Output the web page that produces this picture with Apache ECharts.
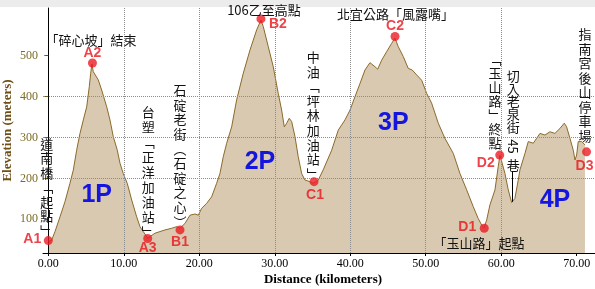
<!DOCTYPE html>
<html><head><meta charset="utf-8">
<script src="https://cdn.jsdelivr.net/npm/echarts@6/dist/echarts.min.js"></script>
<style>html,body{margin:0;padding:0;background:#fff}#c{width:595px;height:289px}</style>
</head><body><div id="c"></div>
<script>
// ---- data ----
const distKm = [0, 0.45, 0.89, 1.55, 2.21, 2.87, 3.31, 3.76, 4.20, 4.64, 5.09, 5.43, 5.62, 5.78, 5.96, 6.62, 7.07, 7.74, 8.17, 8.61, 9.14, 9.50, 9.93, 10.46, 11.05, 11.71, 12.15, 12.58, 13.17, 14.13, 15.46, 16.34, 17.01, 17.44, 18.11, 18.77, 19.43, 19.87, 20.32, 20.98, 21.64, 22.30, 22.74, 23.18, 23.63, 24.29, 24.95, 25.83, 26.72, 27.60, 28.17, 28.48, 29.14, 29.80, 30.46, 30.91, 31.26, 31.58, 31.92, 32.24, 32.68, 33.11, 33.56, 34.00, 34.66, 35.10, 35.76, 36.42, 37.54, 38.41, 39.30, 39.97, 40.63, 41.29, 41.95, 42.61, 43.28, 43.63, 44.16, 44.82, 45.48, 45.92, 46.36, 47.02, 47.68, 48.21, 48.80, 49.46, 50.12, 50.78, 51.66, 52.54, 53.65, 54.53, 55.42, 56.29, 56.95, 57.40, 57.71, 58.07, 58.50, 59.17, 59.60, 59.83, 60.05, 60.49, 60.93, 61.38, 61.81, 62.25, 62.48, 63.14, 63.58, 64.24, 64.69, 65.13, 65.79, 66.45, 67.11, 67.77, 68.35, 68.66, 69.10, 69.54, 69.77, 69.99, 70.20, 70.65, 71.09];
const elevM = [45, 49, 70, 106, 143, 188, 220, 269, 310, 343, 375, 424, 457, 480, 461, 441, 416, 375, 343, 302, 269, 237, 212, 188, 147, 106, 82, 70, 54, 66, 74, 78, 82, 78, 90, 110, 113, 110, 127, 139, 155, 188, 212, 253, 286, 326, 392, 457, 514, 563, 587, 571, 522, 473, 408, 367, 326, 335, 347, 339, 302, 253, 212, 196, 192, 188, 196, 221, 269, 318, 343, 367, 400, 432, 465, 483, 473, 467, 489, 510, 530, 543, 522, 498, 469, 465, 453, 440, 408, 384, 335, 298, 261, 212, 172, 131, 102, 86, 80, 98, 135, 172, 229, 257, 253, 212, 172, 141, 151, 196, 221, 261, 290, 286, 298, 310, 306, 314, 310, 322, 335, 326, 298, 269, 245, 257, 290, 290, 282];

const pointNames = ['A1','A2','A3','B1','B2','C1','C2','D1','D2','D3'];
const pointKm    = [0, 5.85, 13.17, 17.45, 28.17, 35.2, 45.93, 57.75, 59.8, 71.3];
const pointElev  = [48, 482, 53, 74, 590, 192, 547, 78, 257, 265];

const sectionNames = ['1P','2P','3P','4P'];
const placeNames = ['道南橋「起點」','「碎心坡」結束','台塑「正洋加油站」','石碇老街（石碇之心）','106乙至高點','中油「坪林加油站」','北宜公路「風露嘴」','「玉山路」終點','切入老泉街','45','巷','「玉山路」起點','指南宮後山停車場'];

const xTickValues = [0, 10, 20, 30, 40, 50, 60, 70];
const yTickValues = [100, 200, 300, 400, 500];

const xTitle = 'Distance (kilometers)';
const yTitle = 'Elevation (meters)';

// ---- layout / style helpers ----
const labelOffsets = [[-16,-1],[0,-10],[0,10],[0,12],[17,5],[1,13],[0,-10],[-17,-1],[-14,8],[-2,14]];
const sectionPos = [[6.41,159],[28.04,241],[45.7,335],[67.12,147]];
// [km, elev, vertical?, lineHeight, rotate]
const placePos = [
  [-0.21,178,true,14.5,0],
  [5.66,538,false,0,0],
  [13.25,216,true,15,0],
  [17.45,255,true,14.6,0],
  [28.57,611,false,0,0],
  [35.1,354,true,14.6,0],
  [45.99,602,false,0,0],
  [59.17,388,true,14,0],
  [61.6,388,true,12.6,0],
  [61.6,278,false,0,-90],
  [61.6,233,false,0,0],
  [57.05,41,false,0,0],
  [71.1,428,true,14.5,0]
];
function verticalize(s){
  const map={'「':'﹁','」':'﹂','（':'︵','）':'︶'};
  return Array.from(s).map(c=>map[c]||c).join('\n');
}
const cjk = '"Noto Sans CJK TC", sans-serif';

const marks = placeNames.map((t,i)=>{
  const p = placePos[i];
  return {
    coord:[p[0],p[1]],
    symbol:'rect', symbolSize:1, itemStyle:{color:'rgba(0,0,0,0)'},
    label:{show:true, position:'inside', formatter: p[2]?verticalize(t):t,
      color:'#111', fontFamily:cjk, fontSize:13, lineHeight:p[2]?p[3]:16, rotate:p[4], align:'center'}
  };
});
sectionNames.forEach((t,i)=>{
  marks.push({coord:sectionPos[i], symbol:'rect', symbolSize:1, itemStyle:{color:'rgba(0,0,0,0)'},
    label:{show:true, position:'inside', formatter:t, color:'#1515e0', fontFamily:'"Liberation Sans", Arial, sans-serif', fontWeight:'bold', fontSize:25}});
});

const gridLine = {show:true, showMinLine:false, showMaxLine:false, lineStyle:{color:'#8c8c8c', type:'dotted', width:1}};

const chart = echarts.init(document.getElementById('c'), null, {renderer:'canvas'});
chart.setOption({
  animation:false,
  backgroundColor:'#ffffff',
  graphic:[{type:'rect', left:0, top:0, shape:{width:595, height:7}, style:{fill:'#ececec'}, z:-1}],
  grid:{left:43, right:0, top:8, bottom:36, outerBoundsMode:'none', containLabel:false},
  xAxis:{type:'value', min:-0.70, max:72.42, minInterval:10, maxInterval:10, z:2,
    name:xTitle, nameLocation:'middle', nameGap:20, nameMoveOverlap:false,
    nameTextStyle:{fontFamily:'"Liberation Serif", serif', fontWeight:'bold', fontSize:13, color:'#000', padding:[0,0,0,8]},
    axisLine:{lineStyle:{color:'#000', width:1}},
    axisTick:{show:true, length:3, lineStyle:{color:'#000'}, customValues:xTickValues},
    axisLabel:{customValues:xTickValues, formatter:v=>v.toFixed(2), color:'#000', fontFamily:'"Liberation Serif", serif', fontSize:12, margin:5},
    splitLine:Object.assign({customValues:xTickValues}, gridLine)
  },
  yAxis:{type:'value', min:17.6, max:616.6, minInterval:100, maxInterval:100, z:2,
    name:yTitle, nameLocation:'middle', nameGap:29, nameRotate:90, nameMoveOverlap:false,
    nameTextStyle:{fontFamily:'"Liberation Serif", serif', fontWeight:'bold', fontSize:13, color:'#6e4f16'},
    axisLine:{show:true, lineStyle:{color:'#000', width:1}},
    axisTick:{show:true, length:4, lineStyle:{color:'#6e5a20'}, customValues:yTickValues},
    axisLabel:{customValues:yTickValues, color:'#7d6b24', fontFamily:'"Liberation Serif", serif', fontSize:12, margin:5},
    splitLine:Object.assign({customValues:yTickValues}, gridLine)
  },
  series:[
    {type:'line', z:1, data:distKm.map((d,i)=>[d,elevM[i]]), showSymbol:false, symbol:'none',
     lineStyle:{color:'#8b6a2a', width:1}, areaStyle:{color:'#dac9b1', opacity:1}, silent:true},
    {type:'scatter', z:3, data:pointKm.map((d,i)=>({value:[d,pointElev[i]], name:pointNames[i],
        label:{offset:labelOffsets[i]}})),
     symbolSize:9, itemStyle:{color:'#ec1c24'},
     label:{show:true, position:'inside', formatter:p=>p.name, color:'#e8141c', fontFamily:'"Liberation Sans", Arial, sans-serif', fontWeight:'bold', fontSize:14},
     markPoint:{silent:true, data:marks},
     markLine:{silent:true, symbol:'none', label:{show:false}, lineStyle:{color:'#000', width:1, type:'solid'},
       data:[[{coord:[61.45,216]},{coord:[61.45,143]}]]}
    }
  ]
});
</script></body></html>
